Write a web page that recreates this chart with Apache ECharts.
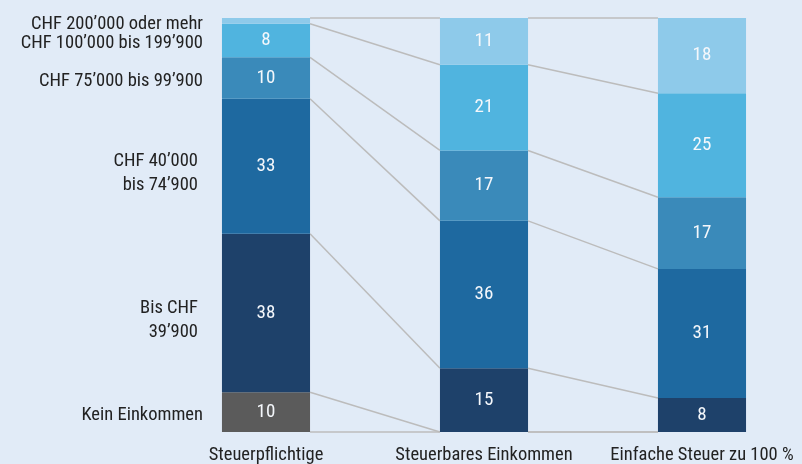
<!DOCTYPE html>
<html><head><meta charset="utf-8">
<script src="https://cdn.jsdelivr.net/npm/echarts@6/dist/echarts.min.js"></script>
<style>html,body{margin:0;padding:0;background:#e1ebf7}#c{width:802px;height:464px}</style>
</head><body><div id="c"></div>
<script>
const categories = ['Steuerpflichtige', 'Steuerbares Einkommen', 'Einfache Steuer zu 100 %'];
const groups = ['Kein Einkommen', 'Bis CHF\n39’900', 'CHF 40’000\nbis 74’900', 'CHF 75’000 bis 99’900', 'CHF 100’000 bis 199’900', 'CHF 200’000 oder mehr'];
const keinEinkommen = [9.6, 0, 0];
const bis39900 = [38.3, 15.4, 8.2];
const chf40000 = [32.6, 35.6, 31.2];
const chf75000 = [10.0, 17.0, 17.3];
const chf100000 = [8.1, 20.7, 25.1];
const chf200000 = [1.4, 11.3, 18.2];

const seriesData = [keinEinkommen, bis39900, chf40000, chf75000, chf100000, chf200000];
const colors = ['#5b5b5b', '#1e416a', '#1e69a0', '#3a8aba', '#50b4df', '#8ecaea'];
const font = '"Roboto Condensed", "Open Sans Condensed", sans-serif';
const HALF = 0.202;

// cumulative boundaries
const cum = [[0, 0, 0]];
seriesData.forEach((d, k) => cum.push(d.map((v, j) => cum[k][j] + v)));

const connectors = [];
cum.forEach(level => {
  for (let j = 0; j < categories.length - 1; j++) connectors.push([j, level[j], j + 1, level[j + 1]]);
});
const leftLabels = seriesData.map((d, i) => [0, cum[i][0] + d[0] / 2, i]);

const barSeries = seriesData.map((d, i) => ({
  type: 'bar', name: groups[i], stack: 's', data: d, barWidth: '40.4%', z: 3,
  itemStyle: { color: colors[i] },
  label: {
    show: true, position: 'inside', color: '#f4f7fb', fontFamily: font, fontSize: 19,
    formatter: p => p.value >= 5 ? String(Math.round(p.value)) : ''
  }
}));

const chart = echarts.init(document.getElementById('c'));
chart.setOption({
  backgroundColor: '#e1ebf7',
  animation: false,
  grid: { left: 157, top: 18, width: 654, height: 414, outerBoundsMode: 'none', containLabel: false },
  xAxis: {
    type: 'category', data: categories,
    axisLine: { show: false }, axisTick: { show: false },
    axisLabel: { color: '#222', fontFamily: font, fontSize: 18.5, margin: 14, interval: 0, hideOverlap: false }
  },
  yAxis: { type: 'value', min: 0, max: 100, show: false },
  series: [
    ...barSeries,
    {
      type: 'custom', data: connectors, silent: true, z: 1,
      encode: { x: [0, 2], y: [1, 3] },
      renderItem: (params, api) => {
        const half = api.size([1, 0])[0] * HALF;
        const p1 = api.coord([api.value(0), api.value(1)]);
        const p2 = api.coord([api.value(2), api.value(3)]);
        return { type: 'line', shape: { x1: p1[0] + half, y1: p1[1], x2: p2[0] - half, y2: p2[1] },
                 style: { stroke: '#bcbcbc', lineWidth: 1.5 } };
      }
    },
    {
      type: 'custom', data: leftLabels, silent: true, z: 4,
      encode: { x: 0, y: 1 },
      renderItem: (params, api) => {
        const half = api.size([1, 0])[0] * HALF;
        const p = api.coord([api.value(0), api.value(1)]);
        const text = groups[api.value(2)];
        const multi = text.indexOf('\n') >= 0;
        return { type: 'text', x: p[0] - half - (multi ? 24 : 19), y: p[1] + (multi ? 7 : 3),
                 style: { text: text, align: 'right', verticalAlign: 'middle',
                          fontFamily: font, fontSize: 18.5, lineHeight: 24, fill: '#222' } };
      }
    }
  ]
});
</script></body></html>
